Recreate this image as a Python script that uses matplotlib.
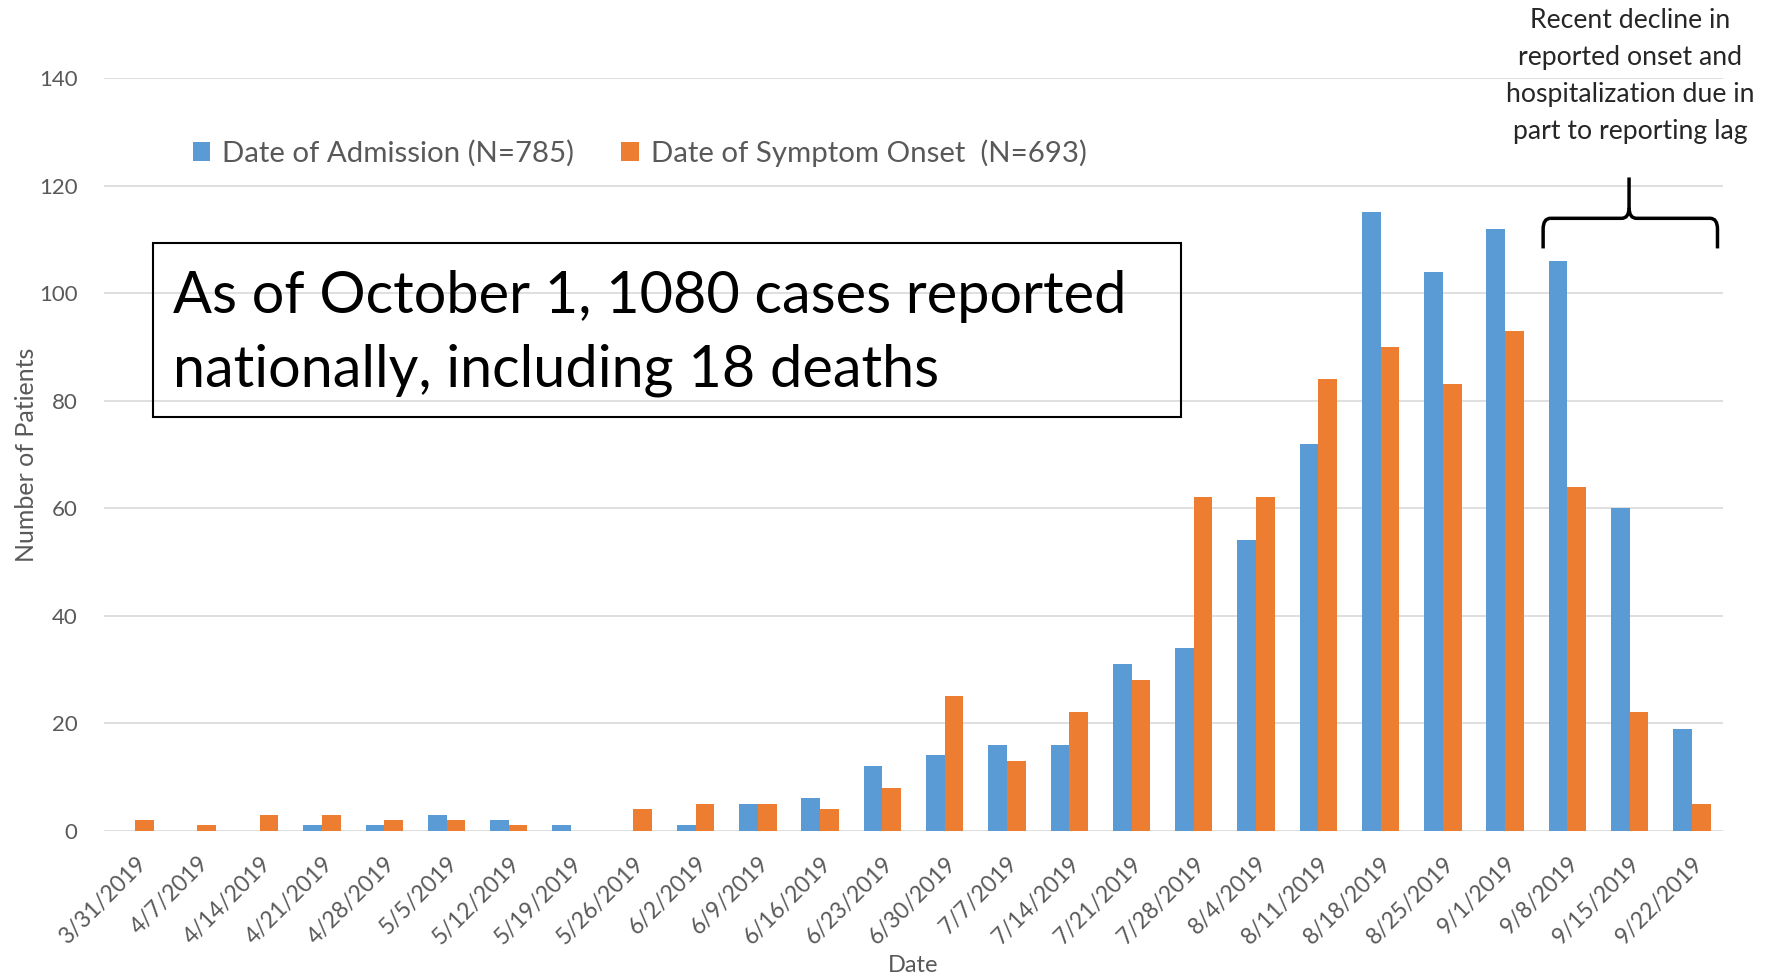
import matplotlib
matplotlib.use("Agg")
import matplotlib.pyplot as plt
from matplotlib.patches import Rectangle
from matplotlib.path import Path
from matplotlib.patches import PathPatch
import numpy as np

dates = ["3/31/2019", "4/7/2019", "4/14/2019", "4/21/2019", "4/28/2019", "5/5/2019",
         "5/12/2019", "5/19/2019", "5/26/2019", "6/2/2019", "6/9/2019", "6/16/2019",
         "6/23/2019", "6/30/2019", "7/7/2019", "7/14/2019", "7/21/2019", "7/28/2019",
         "8/4/2019", "8/11/2019", "8/18/2019", "8/25/2019", "9/1/2019", "9/8/2019",
         "9/15/2019", "9/22/2019"]
admission = [0, 0, 0, 1, 1, 3, 2, 1, 0, 1, 5, 6, 12, 14, 16, 16, 31, 34, 54, 72,
             115, 104, 112, 106, 60, 19]
onset = [2, 1, 3, 3, 2, 2, 1, 0, 4, 5, 5, 4, 8, 25, 13, 22, 28, 62, 62, 84,
         90, 83, 93, 64, 22, 5]
yticks = [0, 20, 40, 60, 80, 100, 120, 140]

plt.rcParams['font.family'] = ['Lato', 'DejaVu Sans']

BLUE = "#5B9BD5"
ORANGE = "#ED7D31"
GRAY = "#595959"

fig = plt.figure(figsize=(17.72, 9.80), dpi=100)
ax = fig.add_axes([0.0587, 0.1524, 0.9137, 0.768])

x = np.arange(len(dates))
w = 0.30
ax.bar(x - w/2, admission, width=w, color=BLUE, label="Date of Admission (N=785)", zorder=3)
ax.bar(x + w/2, onset, width=w, color=ORANGE, label="Date of Symptom Onset  (N=693)", zorder=3)

ax.set_xlim(-0.5, len(dates) - 0.5)
ax.set_ylim(0, 140)
ax.set_yticks(yticks)
ax.set_yticklabels([str(t) for t in yticks], fontsize=16, color=GRAY)
ax.set_xticks(x)
ax.set_xticklabels(dates, rotation=45, ha="right", rotation_mode="anchor",
                   fontsize=16.5, color=GRAY)
ax.tick_params(axis="y", length=0, pad=19)
ax.tick_params(axis="x", length=0, pad=16)
for s in ax.spines.values():
    s.set_visible(False)
ax.grid(axis="y", color="#D9D9D9", linewidth=1.2, zorder=0)
ax.set_axisbelow(True)

ax.set_ylabel("Number of Patients", fontsize=18, color=GRAY)
ax.yaxis.set_label_coords(-0.041, 0.5)
ax.set_xlabel("Date", fontsize=17, color=GRAY)
ax.xaxis.set_label_coords(0.5, -0.165)

leg = fig.legend(loc="center", bbox_to_anchor=(0.361, 0.844), ncol=2, frameon=False,
                 fontsize=21.2, handlelength=0.6, handleheight=0.6, handletextpad=0.4,
                 columnspacing=1.6)
for t in leg.get_texts():
    t.set_color(GRAY)

# Annotation box
rect = Rectangle((152.6/1772, 1 - 417/980), (1181 - 152.6)/1772, (417 - 243)/980,
                 transform=fig.transFigure, fill=False, edgecolor="black", linewidth=1.5)
fig.patches.append(rect)
fig.text(173/1772, 1 - 296/980, "As of October 1, 1080 cases reported",
         fontsize=41.5, color="black", va="center", ha="left")
fig.text(173/1772, 1 - 370/980, "nationally, including 18 deaths",
         fontsize=41.5, color="black", va="center", ha="left")

# Right note
fig.text(1630/1772, 1 - 76/980,
         "Recent decline in\nreported onset and\nhospitalization due in\npart to reporting lag",
         fontsize=19.2, color="#262626", ha="center", va="center", linespacing=1.6)

# Brace (data coordinates)
x0, x1, xm = 22.61, 25.41, 23.99
yb, ye, yt = 113.9, 108.3, 121.5
r = 0.12
verts = [(x0, ye), (x0, yb - 2), (x0, yb), (x0 + r, yb), (xm - r, yb), (xm, yb), (xm, yb + 2),
         (xm, yt)]
codes = [Path.MOVETO, Path.LINETO, Path.CURVE3, Path.CURVE3, Path.LINETO, Path.CURVE3, Path.CURVE3,
         Path.LINETO]
ax.add_patch(PathPatch(Path(verts, codes), fill=False, lw=2.5, color="black", zorder=4,
                       clip_on=False))
verts2 = [(x1, ye), (x1, yb - 2), (x1, yb), (x1 - r, yb), (xm + r, yb), (xm, yb), (xm, yb + 2)]
codes2 = [Path.MOVETO, Path.LINETO, Path.CURVE3, Path.CURVE3, Path.LINETO, Path.CURVE3, Path.CURVE3]
ax.add_patch(PathPatch(Path(verts2, codes2), fill=False, lw=2.5, color="black", zorder=4,
                       clip_on=False))

fig.savefig("out.png", dpi=100)
